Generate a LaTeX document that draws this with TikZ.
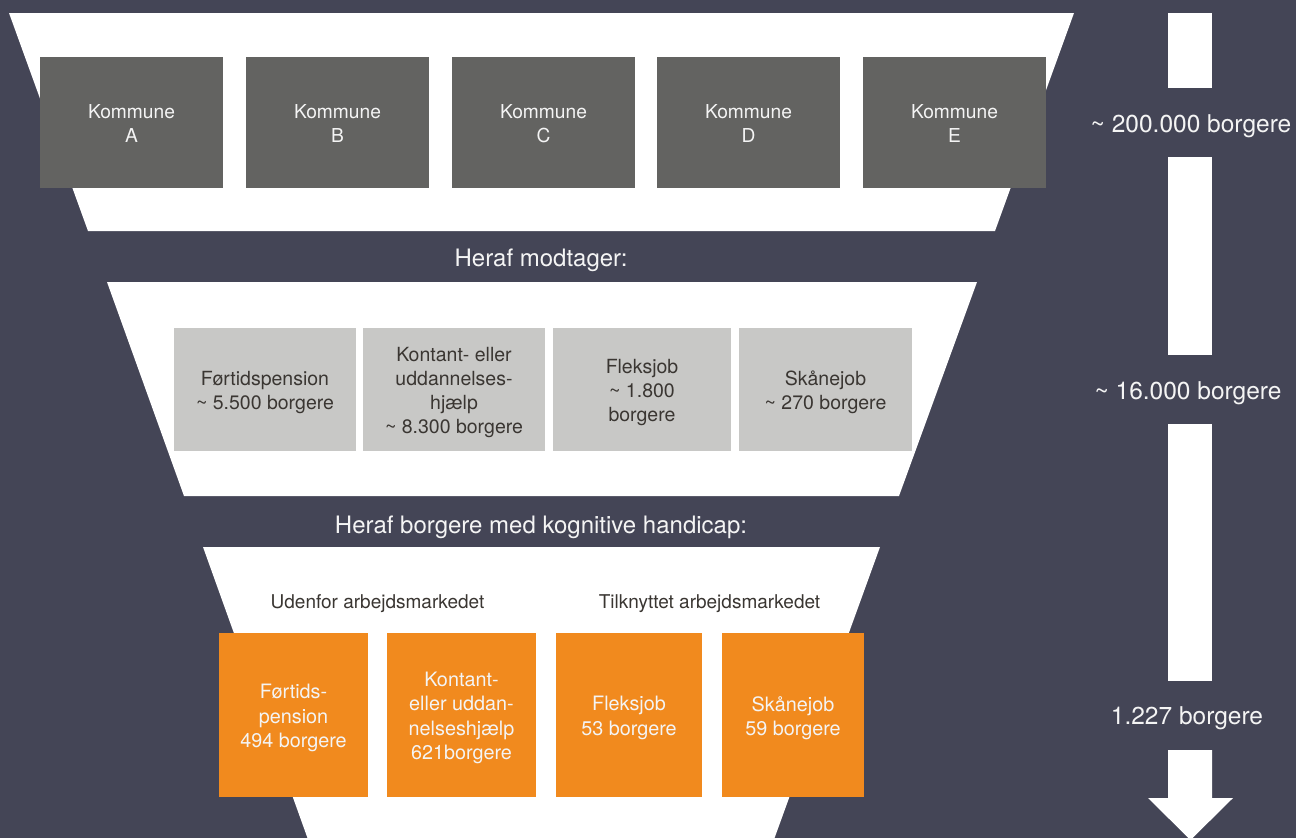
\documentclass[tikz,border=0pt]{standalone}
\usepackage{fontspec}
\setmainfont{TeX Gyre Heros}
\definecolor{bg}{HTML}{444556}
\definecolor{kgray}{HTML}{636361}
\definecolor{lgray}{HTML}{C8C8C6}
\definecolor{orng}{HTML}{F18A1E}
\definecolor{dtext}{HTML}{3A3632}
\definecolor{wtext}{HTML}{F4F4F4}
\newcommand{\tl}{\textasciitilde}
\begin{document}
\begin{tikzpicture}[x=1pt,y=-1pt,
  kbox/.style={fill=kgray, minimum width=183pt, minimum height=131pt, inner sep=0pt},
  ktext/.style={text=wtext, align=center, inner sep=0pt, yshift=-1pt,
    font=\fontsize{19.2}{24}\selectfont},
  gbox/.style={fill=lgray, minimum height=123pt, inner sep=0pt},
  gtext/.style={text=dtext, align=center, inner sep=0pt, yshift=-3pt,
    font=\fontsize{19.5}{24.3}\selectfont},
  obox/.style={fill=orng, minimum height=164pt, inner sep=0pt},
  otext/.style={text=wtext, align=center, inner sep=0pt, yshift=-3pt,
    font=\fontsize{19.8}{24.5}\selectfont},
  headlbl/.style={text=wtext, font=\fontsize{24}{28}\selectfont, inner sep=0pt},
  sidelbl/.style={text=wtext, font=\fontsize{24.5}{28}\selectfont, inner sep=0pt},
  grouplbl/.style={text=dtext, font=\fontsize{19}{22}\selectfont, inner sep=0pt}]
\useasboundingbox (0,0) rectangle (1296,838);
\fill[bg] (0,0) rectangle (1296,838);
% funnel stages
\fill[white] (9,13) -- (1074,13) -- (995,231) -- (88,231) -- cycle;
\fill[white] (107,282) -- (977,282) -- (899,496) -- (184,496) -- cycle;
\fill[white] (203,547) -- (880,547) -- (772,845) -- (310,845) -- cycle;
% side arrow
\fill[white] (1168,13) rectangle (1212,88);
\fill[white] (1168,157) rectangle (1212,355);
\fill[white] (1168,424) rectangle (1212,681);
\fill[white] (1168,750) -- (1212,750) -- (1212,798) -- (1233,798) -- (1190.5,840)
  -- (1148,798) -- (1168,798) -- cycle;
% stage 1
\node[kbox, label={[ktext]center:{Kommune\\A}}] (kA) at (131.5,122.5) {};
\node[kbox, label={[ktext]center:{Kommune\\B}}] (kB) at (337.5,122.5) {};
\node[kbox, label={[ktext]center:{Kommune\\C}}] (kC) at (543.5,122.5) {};
\node[kbox, label={[ktext]center:{Kommune\\D}}] (kD) at (748.5,122.5) {};
\node[kbox, label={[ktext]center:{Kommune\\E}}] (kE) at (954.5,122.5) {};
\node[headlbl] (h1) at (541,260) {Heraf modtager:};
% stage 2
\node[gbox, minimum width=182pt, label={[gtext]center:{Førtidspension\\\tl{} 5.500 borgere}}] (g1) at (265,389.5) {};
\node[gbox, minimum width=182pt, label={[gtext]center:{Kontant- eller\\uddannelses-\\hjælp\\\tl{} 8.300 borgere}}] (g2) at (454,389.5) {};
\node[gbox, minimum width=178pt, label={[gtext]center:{Fleksjob\\\tl{} 1.800\\borgere}}] (g3) at (642,389.5) {};
\node[gbox, minimum width=173pt, label={[gtext]center:{Skånejob\\\tl{} 270 borgere}}] (g4) at (825.5,389.5) {};
\node[headlbl] (h2) at (541,527) {Heraf borgere med kognitive handicap:};
% stage 3
\node[grouplbl] (u1) at (377.5,604) {Udenfor arbejdsmarkedet};
\node[grouplbl] (u2) at (709.5,604) {Tilknyttet arbejdsmarkedet};
\node[obox, minimum width=149pt, label={[otext]center:{Førtids-\\pension\\494 borgere}}] (o1) at (293.5,715) {};
\node[obox, minimum width=149pt, label={[otext]center:{Kontant-\\eller uddan-\\nelseshjælp\\621borgere}}] (o2) at (461.5,715) {};
\node[obox, minimum width=146pt, label={[otext]center:{Fleksjob\\53 borgere}}] (o3) at (629,715) {};
\node[obox, minimum width=142pt, label={[otext]center:{Skånejob\\59 borgere}}] (o4) at (793,715) {};
% side labels
\node[sidelbl] (s1) at (1191,126) {\tl{} 200.000 borgere};
\node[sidelbl] (s2) at (1188,393) {\tl{} 16.000 borgere};
\node[sidelbl] (s3) at (1187,718) {1.227 borgere};
\end{tikzpicture}
\end{document}
